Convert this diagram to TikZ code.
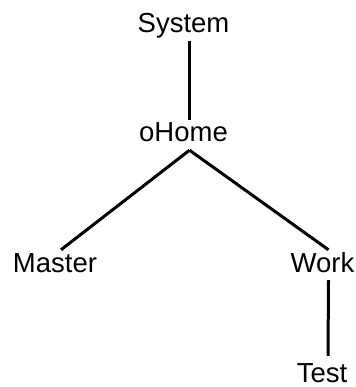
\documentclass[tikz,border=0pt]{standalone}
\usepackage{fontspec}
\setmainfont{Liberation Sans}
\usepackage{tikz}
\usetikzlibrary{positioning}

\begin{document}
\begin{tikzpicture}[x=1pt, y=-1pt,
    nodo/.style={anchor=base, inner sep=2pt, text height=20pt, text depth=6pt,
        font=\fontsize{27.5}{33}\selectfont},
    arista/.style={line width=3pt, transform canvas={xshift=6pt}}]
    \useasboundingbox (0, 0) rectangle (355, 387);
    % Definición de los nodos
    \node[nodo] (System) at (183.5, 33) {System};
    \node[nodo] (oHome) at (183.5, 142) {oHome};
    \node[nodo] (Master) at (55, 272) {Master};
    \node[nodo] (Work) at (322.5, 272) {Work};
    \node[nodo, text height=26pt, text depth=0pt, inner ysep=0pt] (Test) at (322, 382) {Test};

    % Definición de las aristas
    \draw[arista] (System.south) -- (oHome.north);
    \draw[arista] (oHome.south) -- (Master.north);
    \draw[arista] (oHome.south) -- (Work.north);
    \draw[arista] (Work.south) -- (Test.north);
\end{tikzpicture}
\end{document}
